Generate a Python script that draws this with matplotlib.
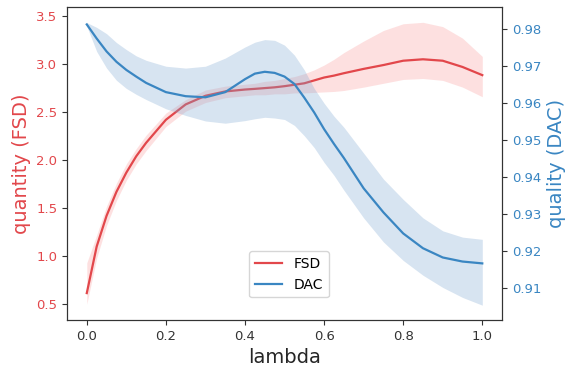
import numpy as np
import matplotlib.pyplot as plt

# data
lam = [0.0, 0.025, 0.05, 0.075, 0.1, 0.125, 0.15, 0.2, 0.25, 0.3, 0.35, 0.4,
       0.425, 0.45, 0.475, 0.5, 0.525, 0.55, 0.575, 0.6, 0.625, 0.65,
       0.7, 0.75, 0.8, 0.85, 0.9, 0.95, 1.0]

fsd_mean = [0.615, 1.10, 1.42, 1.67, 1.87, 2.04, 2.18, 2.42, 2.58, 2.67, 2.715, 2.735,
            2.742, 2.75, 2.758, 2.77, 2.785, 2.80, 2.83, 2.86, 2.88, 2.905,
            2.95, 2.99, 3.035, 3.05, 3.035, 2.97, 2.885]
fsd_high = [0.93, 1.22, 1.52, 1.76, 1.96, 2.12, 2.26, 2.49, 2.63, 2.73, 2.77, 2.79,
            2.80, 2.82, 2.83, 2.85, 2.87, 2.90, 2.94, 2.99, 3.05, 3.12,
            3.24, 3.35, 3.42, 3.435, 3.39, 3.27, 3.08]
fsd_low = [0.50, 0.98, 1.32, 1.58, 1.79, 1.96, 2.10, 2.35, 2.51, 2.60, 2.65, 2.67,
           2.68, 2.68, 2.69, 2.69, 2.70, 2.70, 2.705, 2.71, 2.715, 2.725,
           2.76, 2.80, 2.84, 2.85, 2.83, 2.76, 2.66]

dac_mean = [0.9813, 0.9775, 0.9740, 0.9712, 0.9690, 0.9672, 0.9655, 0.9630, 0.9619, 0.9616, 0.9630, 0.9665,
            0.9680, 0.9685, 0.9682, 0.9672, 0.9652, 0.9615, 0.9575, 0.9530, 0.9490, 0.9452,
            0.9370, 0.9305, 0.9248, 0.9208, 0.9183, 0.9172, 0.9167]
dac_high = [0.9818, 0.9805, 0.9788, 0.9764, 0.9745, 0.9728, 0.9716, 0.9700, 0.9695, 0.9700, 0.9722, 0.9752,
            0.9765, 0.9772, 0.9770, 0.9757, 0.9730, 0.9690, 0.9640, 0.9600, 0.9565, 0.9535,
            0.9465, 0.9395, 0.9340, 0.9290, 0.9255, 0.9238, 0.9232]
dac_low = [0.9808, 0.9740, 0.9695, 0.9662, 0.9640, 0.9624, 0.9610, 0.9585, 0.9567, 0.9552, 0.9546, 0.9553,
           0.9558, 0.9562, 0.9560, 0.9556, 0.9540, 0.9512, 0.9480, 0.9440, 0.9405, 0.9365,
           0.9290, 0.9225, 0.9175, 0.9135, 0.9102, 0.9075, 0.9054]

red = '#e2474b'
blue = '#3a86c2'

fig = plt.figure(figsize=(5.65, 3.71), dpi=100)
ax1 = fig.add_axes([0.1186, 0.1375, 0.77, 0.8435])
ax2 = ax1.twinx()

ax1.fill_between(lam, fsd_low, fsd_high, color='#fb9a9a', alpha=0.3, lw=0)
l1, = ax1.plot(lam, fsd_mean, color=red, lw=1.6, label='FSD')
ax2.fill_between(lam, dac_low, dac_high, color='#7ca6d1', alpha=0.3, lw=0)
l2, = ax2.plot(lam, dac_mean, color=blue, lw=1.6, label='DAC')

ax1.set_xlim(-0.05, 1.05)
ax1.set_ylim(0.335, 3.594)
ax2.set_ylim(0.9014, 0.986)
ax1.set_yticks([0.5, 1.0, 1.5, 2.0, 2.5, 3.0, 3.5])
ax2.set_yticks([0.91, 0.92, 0.93, 0.94, 0.95, 0.96, 0.97, 0.98])

ax1.set_xlabel('lambda', fontsize=14, color='#262626')
ax1.set_ylabel('quantity (FSD)', fontsize=14, color=red)
ax2.set_ylabel('quality (DAC)', fontsize=14, color=blue)
ax2.yaxis.set_label_coords(1.103, 0.5)
ax1.tick_params(axis='y', colors=red, labelsize=9.5)
ax1.tick_params(axis='x', labelsize=9.5, colors='#333333')
ax2.tick_params(axis='y', colors=blue, labelsize=9.5)
for a in (ax1, ax2):
    for s in a.spines.values():
        s.set_color('#333333')
ax1.tick_params(axis='y', color='#333333')
ax2.tick_params(axis='y', color='#333333')

ax2.legend([l1, l2], ['FSD', 'DAC'], loc='lower center', bbox_to_anchor=(0.51, 0.05), fontsize=10)

plt.savefig('out.png', dpi=100)
